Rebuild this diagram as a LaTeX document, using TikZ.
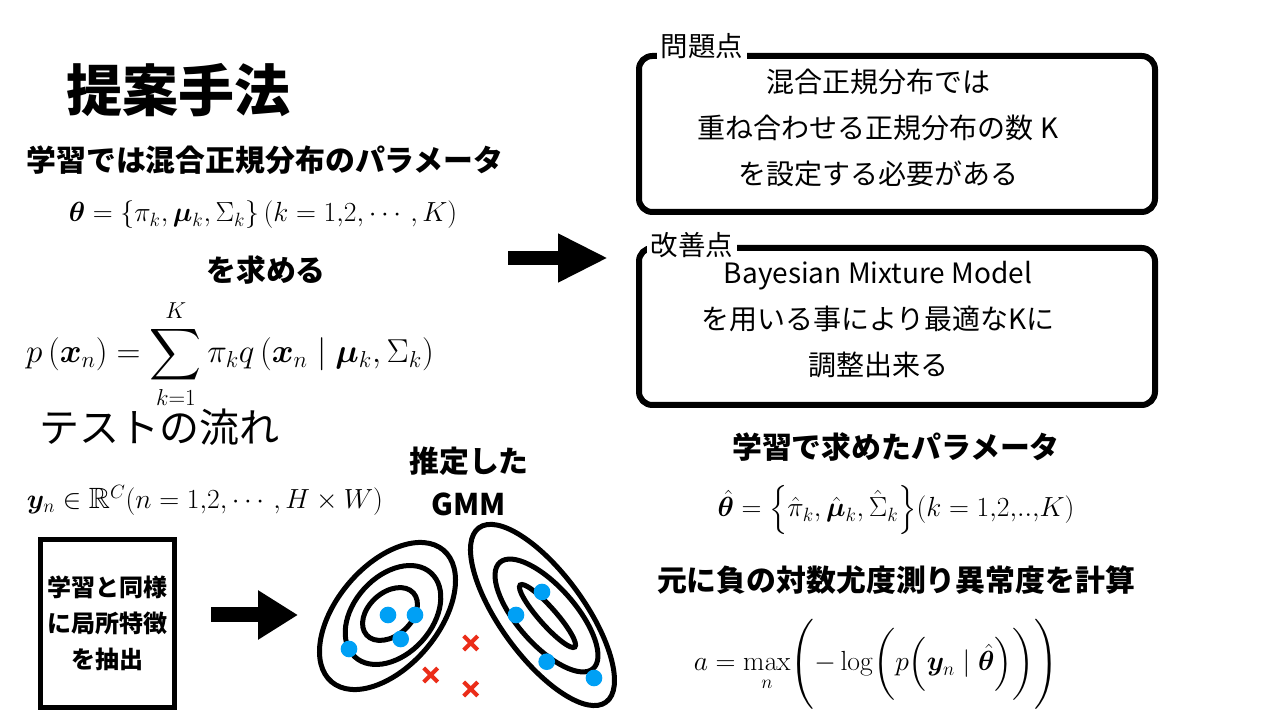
\documentclass[tikz,border=0pt]{standalone}
\usepackage{amsmath}
\usepackage{amssymb}
\usepackage{bm}
\usepackage[no-math]{fontspec}
\newfontfamily\jp{Noto Sans CJK JP}
\usetikzlibrary{arrows.meta,positioning,shapes.misc}
\definecolor{dotblue}{RGB}{0,160,245}
\definecolor{crossred}{RGB}{235,45,25}
\newcommand{\fsz}[2]{\fontsize{#1pt}{#2pt}\selectfont}

\tikzset{
  heading/.style={inner sep=1pt, font=\jp\bfseries\fsz{22.4}{27}},
  formula/.style={inner sep=1pt},
  frame/.style={draw, line width=4.5pt, rounded corners=10pt, minimum width=387pt, minimum height=117pt},
  tag/.style={fill=white, inner sep=2.5pt, font=\jp\fsz{20.6}{24}},
  boxtext/.style={align=center, inner sep=1pt, font=\jp\fsz{21}{34.5}},
  featbox/.style={draw, line width=3.75pt, minimum width=100.5pt, minimum height=126pt, align=center, font=\jp\bfseries\fsz{18}{27}},
  contour/.style={line width=3.75pt},
  fatarrow/.style={line width=11.25pt, -{Triangle[length=30pt,width=35pt]}},
  bigarrow/.style={line width=10.5pt, -{Triangle[length=37.5pt,width=34pt]}},
  sample/.style={circle, fill=dotblue, inner sep=0pt, minimum size=12.5pt},
  outlier/.style={cross out, draw=crossred, line width=3pt, inner sep=0pt, minimum size=7.5pt}
}

\begin{document}
\begin{tikzpicture}[x=0.75pt,y=0.75pt]
  \fill[white] (0,0) rectangle (1280,720);
  \useasboundingbox (0,0) rectangle (1280,720);

  % left column: training
  \node[font=\jp\bfseries\fsz{42}{50}] (title) at (178,630) {提案手法};
  \node[heading] (train) at (265,560) {学習では混合正規分布のパラメータ};
  \node[formula, font=\fsz{20.8}{24}] (theta) at (263,505)
    {$\bm{\theta}=\left\{\pi_k,\bm{\mu}_k, \Sigma_k\right\}(k=1{,}2{,}\cdots, K)$};
  \node[heading] (seek) at (266,450) {を求める};
  \node[formula, font=\fsz{27}{32}] (mix) at (230,366)
    {$\displaystyle p\left(\bm{x}_n\right)=\sum_{k=1}^{K}\pi_k q\left(\bm{x}_n\mid\bm{\mu}_k,\Sigma_k\right)$};

  % left column: test
  \node[inner sep=1pt, font=\jp\fsz{30}{36}] (flow) at (159,293) {テストの流れ};
  \node[formula, font=\fsz{22}{26}] (yn) at (205,220)
    {$\bm{y}_n\in\mathbb{R}^C(n=1{,}2{,}\cdots, H\times W)$};
  \node[heading, align=center, font=\jp\bfseries\fsz{22.4}{32}] (est) at (469,238.5) {推定した\\GMM};
  \node[featbox] (feat) at (107.5,96.5) {学習と同様\\に局所特徴\\を抽出};

  % estimated mixture
  \coordinate (gl) at (387.5,104);
  \coordinate (gr) at (542.5,105);
  \draw[contour, rotate around={49.6:(gl)}] (gl) ellipse [x radius=64.8pt, y radius=38pt];
  \draw[contour, rotate around={47.8:(393,105)}] (393,105) ellipse [x radius=42.5pt, y radius=29.25pt];
  \draw[contour, rotate around={42:(390,106)}] (390,106) ellipse [x radius=23.6pt, y radius=16.1pt];
  \draw[contour, rotate around={-53.9:(gr)}] (gr) ellipse [x radius=80.9pt, y radius=31.4pt];
  \draw[contour, rotate around={-48.7:(546.5,104.5)}] (546.5,104.5) ellipse [x radius=53pt, y radius=21.75pt];
  \draw[contour, rotate around={-48.6:(547.5,104)}] (547.5,104) ellipse [x radius=31pt, y radius=6.4pt];

  \node[sample] (l1) at (388,105) {};
  \node[sample] (l2) at (415,105) {};
  \node[sample] (l3) at (400.7,81) {};
  \node[sample] (l4) at (349,71) {};
  \node[sample] (r1) at (542,128) {};
  \node[sample] (r2) at (516,105) {};
  \node[sample] (r3) at (546.7,58.3) {};
  \node[sample] (r4) at (594,42) {};
  \node[outlier] (o1) at (470.7,77) {};
  \node[outlier] (o2) at (430.7,45) {};
  \node[outlier] (o3) at (470.7,31) {};

  \coordinate (gmmin) at (298,105);
  \draw[fatarrow, shorten <=25.5pt] (feat.east |- gmmin) -- (gmmin);

  % right column
  \coordinate (arrs) at (508,462);
  \coordinate (arre) at (608,462);
  \draw[bigarrow] (arrs) -- (arre);

  \node[frame] (prob) at (897,586) {};
  \node[tag] (probtag) at (702,674) {問題点};
  \node[boxtext] (probtext) at (878,592) {混合正規分布では\\重ね合わせる正規分布の数 K\\を設定する必要がある};

  \node[frame, minimum height=117.75pt] (impr) at (897,393.5) {};
  \node[tag] (imprtag) at (692,475) {改善点};
  \node[boxtext] (imprtext) at (878,400) {Bayesian Mixture Model\\を用いる事により最適なKに\\調整出来る};

  \node[heading] (learned) at (896,273) {学習で求めたパラメータ};
  \node[formula, font=\fsz{20.5}{24}] (thetahat) at (896,210)
    {$\hat{\bm{\theta}}=\Bigl\{\hat{\pi}_k,\hat{\bm{\mu}}_k, \hat{\Sigma}_k\Bigr\}(k=1{,}2{,}..{,}K)$};
  \node[heading] (score) at (896,140) {元に負の対数尤度測り異常度を計算};
  \node[formula, font=\fsz{22.5}{26}] (anom) at (876,56)
    {$\displaystyle a=\max_n\Biggl(-\log\biggl(p\Bigl(\bm{y}_n\mid\hat{\bm{\theta}}\Bigr)\biggr)\Biggr)$};
\end{tikzpicture}
\end{document}
